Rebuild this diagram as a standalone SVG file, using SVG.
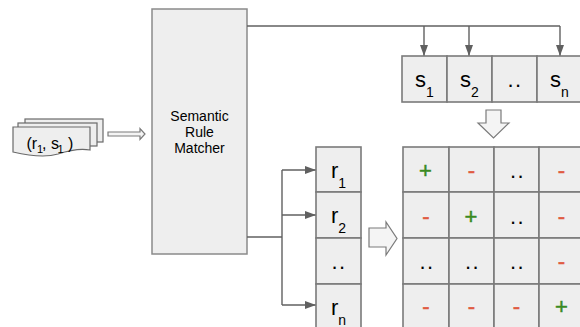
<svg xmlns="http://www.w3.org/2000/svg" width="580" height="327" viewBox="0 0 580 327">
<defs>
<style>
.cell{fill:#eeeeee;stroke:#7a7a7a;stroke-width:1.6}
.box{fill:#eeeeee;stroke:#8a8a8a;stroke-width:1.5}
.conn{fill:none;stroke:#606060;stroke-width:1.4}
.blk{fill:#f4f4f4;stroke:#7a7a7a;stroke-width:1.2}
.doc{fill:#eeeeee;stroke:#6a6a6a;stroke-width:1.2}
text{font-family:"Liberation Sans",Arial,sans-serif;fill:#000}
.lbl{font-size:14px}
.big{font-size:22px}
.sub{font-size:14px}
.sym{font-size:22px;text-anchor:middle}
.plus{fill:#3a8a22;stroke:#3a8a22;stroke-width:0.5}
.minus{fill:#e05a40;stroke:#e05a40;stroke-width:0.5}
.dots{letter-spacing:1.5px}
</style>
<marker id="ah" viewBox="0 0 11 8" refX="11" refY="4" markerWidth="11" markerHeight="8" markerUnits="userSpaceOnUse" orient="auto">
<path d="M0,0 L11,4 L0,8 z" fill="#606060"/>
</marker>
</defs>
<rect width="580" height="327" fill="#ffffff"/>

<g id="input-docs">
<rect class="doc" x="25" y="119" width="78" height="23"/>
<rect class="doc" x="18" y="123" width="79" height="23"/>
<path class="doc" d="M13,127 H90 V150 C80,148 70,150 58,154 C45,158 30,156 13,152 Z"/>
<text font-size="16" y="149"><tspan x="26.5">(r</tspan><tspan x="37" dy="4" font-size="11">1</tspan><tspan x="42" dy="-4">, s</tspan><tspan x="57.5" dy="4" font-size="11">1</tspan><tspan x="68" dy="-4">)</tspan></text>
</g>

<g id="input-arrow">
<path class="blk" d="M108,132 H140 V128.5 L145,134 L140,139.5 V136 H108 Z"/>
</g>

<g id="matcher">
<rect class="box" x="152" y="9" width="95" height="245"/>
<text class="lbl" text-anchor="middle" x="199.5" y="121">Semantic</text>
<text class="lbl" text-anchor="middle" x="199.5" y="137">Rule</text>
<text class="lbl" text-anchor="middle" x="199.5" y="153">Matcher</text>
</g>

<g id="connectors">
<path class="conn" d="M247,26 H560"/>
<path class="conn" d="M424,26 V56" marker-end="url(#ah)"/>
<path class="conn" d="M469,26 V56" marker-end="url(#ah)"/>
<path class="conn" d="M560,26 V56" marker-end="url(#ah)"/>
<path class="conn" d="M247,237 H282"/>
<path class="conn" d="M282,170 V305"/>
<path class="conn" d="M282,170 H316" marker-end="url(#ah)"/>
<path class="conn" d="M282,215 H316" marker-end="url(#ah)"/>
<path class="conn" d="M282,305 H316" marker-end="url(#ah)"/>
</g>

<g id="s-row">
<rect class="cell" x="402" y="56" width="45" height="46"/>
<rect class="cell" x="447" y="56" width="45" height="46"/>
<rect class="cell" x="492" y="56" width="45" height="46"/>
<rect class="cell" x="537" y="56" width="45" height="46"/>
<text class="big" text-anchor="middle" x="424.5" y="87">s<tspan class="sub" dy="10">1</tspan></text>
<text class="big" text-anchor="middle" x="469.5" y="87">s<tspan class="sub" dy="10">2</tspan></text>
<text class="big dots" text-anchor="middle" x="515" y="87">..</text>
<text class="big" text-anchor="middle" x="559.5" y="87">s<tspan class="sub" dy="10">n</tspan></text>
</g>

<g id="down-arrow">
<path class="blk" d="M486,110 H501 V123 H509 L493.5,138 L478,123 H486 Z"/>
</g>

<g id="r-column">
<rect class="cell" x="316" y="147" width="45" height="45"/>
<rect class="cell" x="316" y="192" width="45" height="46"/>
<rect class="cell" x="316" y="238" width="45" height="46"/>
<rect class="cell" x="316" y="284" width="45" height="46"/>
<text class="big" text-anchor="middle" x="338.5" y="177.5">r<tspan class="sub" dy="10">1</tspan></text>
<text class="big" text-anchor="middle" x="338.5" y="223">r<tspan class="sub" dy="10">2</tspan></text>
<text class="big dots" text-anchor="middle" x="339" y="269">..</text>
<text class="big" text-anchor="middle" x="338.5" y="315">r<tspan class="sub" dy="10">n</tspan></text>
</g>

<g id="right-arrow">
<path class="blk" d="M369,228 H386 V222 L397,238.5 L386,255 V247 H369 Z"/>
</g>

<g id="matrix">
<rect class="cell" x="403" y="147" width="46" height="45"/>
<rect class="cell" x="449" y="147" width="45" height="45"/>
<rect class="cell" x="494" y="147" width="45" height="45"/>
<rect class="cell" x="539" y="147" width="45" height="45"/>
<rect class="cell" x="403" y="192" width="46" height="46"/>
<rect class="cell" x="449" y="192" width="45" height="46"/>
<rect class="cell" x="494" y="192" width="45" height="46"/>
<rect class="cell" x="539" y="192" width="45" height="46"/>
<rect class="cell" x="403" y="238" width="46" height="46"/>
<rect class="cell" x="449" y="238" width="45" height="46"/>
<rect class="cell" x="494" y="238" width="45" height="46"/>
<rect class="cell" x="539" y="238" width="45" height="46"/>
<rect class="cell" x="403" y="284" width="46" height="46"/>
<rect class="cell" x="449" y="284" width="45" height="46"/>
<rect class="cell" x="494" y="284" width="45" height="46"/>
<rect class="cell" x="539" y="284" width="45" height="46"/>

<text class="sym plus" x="425.5" y="178">+</text>
<text class="sym minus" x="471.5" y="178">-</text>
<text class="sym dots" x="517.5" y="178">..</text>
<text class="sym minus" x="561.5" y="178">-</text>

<text class="sym minus" x="426" y="223.5">-</text>
<text class="sym plus" x="471" y="223.5">+</text>
<text class="sym dots" x="517.5" y="223.5">..</text>
<text class="sym minus" x="561.5" y="223.5">-</text>

<text class="sym dots" x="427" y="268.5">..</text>
<text class="sym dots" x="472.5" y="268.5">..</text>
<text class="sym dots" x="517.5" y="268.5">..</text>
<text class="sym minus" x="561.5" y="269">-</text>

<text class="sym minus" x="426" y="314">-</text>
<text class="sym minus" x="471.5" y="314">-</text>
<text class="sym minus" x="516.5" y="314">-</text>
<text class="sym plus" x="561.5" y="314">+</text>
</g>
</svg>
